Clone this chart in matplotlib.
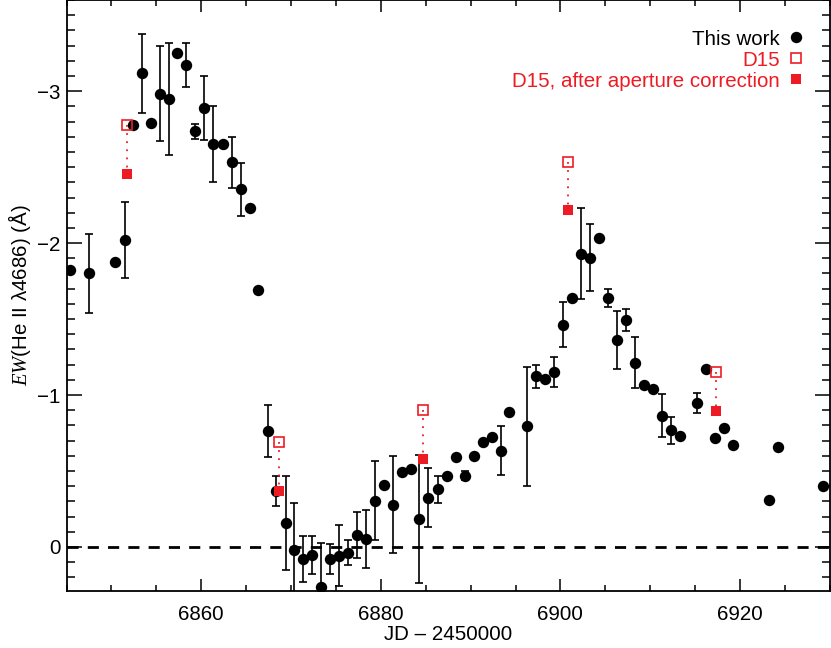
import numpy as np
import matplotlib
matplotlib.use('Agg')
import matplotlib.pyplot as plt
from matplotlib.ticker import MultipleLocator

plt.rcParams['font.family'] = ['Liberation Sans', 'DejaVu Sans']
plt.rcParams['mathtext.fontset'] = 'custom'
plt.rcParams['mathtext.it'] = 'Liberation Serif:italic'
plt.rcParams['mathtext.rm'] = 'Liberation Sans'

# ---- data: this work ----
jd = [6845.41, 6847.44, 6850.41, 6851.47, 6852.44, 6853.37, 6854.37, 6855.37,
      6856.37, 6857.33, 6858.33, 6859.33, 6860.33, 6861.33, 6862.37, 6863.38,
      6864.38, 6865.38, 6866.37, 6867.38, 6868.30, 6869.38, 6870.38, 6871.37,
      6872.38, 6873.38, 6874.38, 6875.38, 6876.38, 6877.33, 6878.33, 6879.33,
      6880.33, 6881.33, 6882.33, 6883.33, 6884.30, 6885.30, 6886.33, 6887.33,
      6888.33, 6889.33, 6890.33, 6891.33, 6892.33, 6893.33, 6894.30, 6896.33,
      6897.33, 6898.33, 6899.33, 6900.30, 6901.30, 6902.30, 6903.30, 6904.30,
      6905.30, 6906.30, 6907.30, 6908.30, 6909.30, 6910.30, 6911.30, 6912.30,
      6913.30, 6915.26, 6916.26, 6917.26, 6918.27, 6919.27, 6923.19, 6924.19,
      6929.20]
ew = [-1.82, -1.80, -1.877, -2.02, -2.775, -3.118, -2.793, -2.984,
      -2.947, -3.25, -3.173, -2.736, -2.887, -2.65, -2.65, -2.531,
      -2.353, -2.228, -1.694, -0.763, -0.369, -0.156, 0.02, 0.081,
      0.053, 0.261, 0.079, 0.057, 0.037, -0.077, -0.05, -0.303,
      -0.409, -0.279, -0.492, -0.51, -0.182, -0.323, -0.38, -0.464,
      -0.595, -0.468, -0.60, -0.692, -0.723, -0.633, -0.888, -0.793,
      -1.123, -1.107, -1.151, -1.463, -1.637, -1.931, -1.903, -2.033,
      -1.637, -1.36, -1.496, -1.211, -1.063, -1.039, -0.864, -0.767,
      -0.727, -0.947, -1.173, -0.716, -0.78, -0.668, -0.31, -0.655,
      -0.404]
ew_err = [0, 0.26, 0, 0.25, 0, 0.26, 0, 0.31,
          0.37, 0, 0.145, 0.05, 0.21, 0.25, 0, 0.17,
          0.176, 0, 0, 0.174, 0.10, 0.31, 0.31, 0.15,
          0.125, 0.29, 0.10, 0.20, 0.08, 0.15, 0.19, 0.26,
          0, 0.32, 0, 0, 0.42, 0.195, 0.09, 0,
          0, 0.03, 0, 0, 0, 0.16, 0, 0.39,
          0.074, 0, 0.097, 0.146, 0, 0.30, 0.22, 0,
          0.06, 0.19, 0.072, 0.168, 0, 0, 0.143, 0.09,
          0, 0.064, 0, 0, 0, 0, 0, 0,
          0]

# ---- data: D15 ----
jd_d15 = [6851.71, 6868.67, 6884.71, 6900.82, 6917.37]
ew_d15 = [-2.775, -0.69, -0.899, -2.536, -1.151]
ew_d15_corr = [-2.457, -0.369, -0.58, -2.215, -0.892]

labels = ['This work', 'D15', 'D15, after aperture correction']
x_label = 'JD – 2450000'
y_label = r'$EW$(He II λ4686) (Å)'

RED = '#ED1C24'
FS = 14.8

jd_a = np.array(jd)
ew_a = np.array(ew)
err_a = np.array(ew_err)
has_err = err_a > 0

fig = plt.figure(figsize=(8.31, 6.48), dpi=100)
ax = fig.add_axes([66.6 / 831, 57 / 648, 763.2 / 831, 591 / 648])

ax.axhline(0, color='k', lw=2.0, ls=(0, (4, 3.3)), zorder=1)

ax.errorbar(jd_a[has_err], ew_a[has_err], yerr=err_a[has_err], fmt='none',
            ecolor='k', elinewidth=1.2, capsize=3.0, capthick=1.2, zorder=2)
ax.plot(jd_a, ew_a, 'o', color='k', ms=8.2, mew=0, zorder=3, label=labels[0])

ax.vlines(jd_d15, ew_d15, ew_d15_corr, colors=RED, linestyles=(0, (1, 3.5)),
          lw=1.3, zorder=4)
ax.plot(jd_d15, ew_d15, 's', mfc='none', mec=RED, mew=1.2, ms=7.2, zorder=5,
        label=labels[1])
ax.plot(jd_d15, ew_d15_corr, 's', color=RED, mew=0, ms=7.8, zorder=5,
        label=labels[2])

ax.set_xlim(6845, 6930)
ax.set_ylim(0.29, -3.6)
ax.xaxis.set_major_locator(MultipleLocator(20))
ax.xaxis.set_minor_locator(MultipleLocator(5))
ax.yaxis.set_major_locator(MultipleLocator(1))
ax.yaxis.set_minor_locator(MultipleLocator(0.1))

ax.tick_params(which='both', direction='in', top=True, right=True, width=1.1,
               labelsize=FS)
ax.tick_params(axis='x', which='major', length=8.5, pad=10)
ax.tick_params(axis='x', which='minor', length=4.3)
ax.tick_params(axis='y', which='major', length=11, pad=4.5)
ax.tick_params(axis='y', which='minor', length=5.5)
for sp in ax.spines.values():
    sp.set_linewidth(1.3)

ax.set_xlabel(x_label, fontsize=FS, labelpad=1)
ax.set_ylabel(y_label, fontsize=FS, labelpad=3)

leg = ax.legend(loc='upper right', bbox_to_anchor=(0.9642, 0.950),
                frameon=False, markerfirst=False, fontsize=FS,
                handlelength=0.6, handletextpad=0.5, labelspacing=0.1,
                borderpad=0, borderaxespad=0, numpoints=1)
for t, c in zip(leg.get_texts(), ['k', RED, RED]):
    t.set_color(c)

fig.savefig('out.png', dpi=100)
